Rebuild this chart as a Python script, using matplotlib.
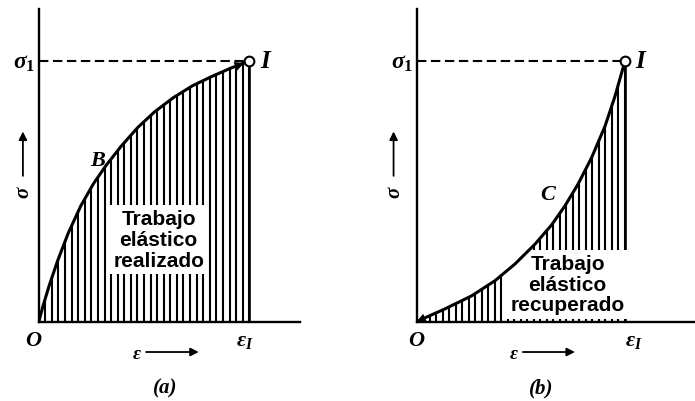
import matplotlib
matplotlib.use('Agg')
import matplotlib.pyplot as plt
import numpy as np

# Curva B: carga elastica (concava), deformacion y tension normalizadas
eps_carga = [0, 0.02, 0.05, 0.09, 0.14, 0.20, 0.26, 0.32, 0.39, 0.47, 0.55,
             0.64, 0.73, 0.82, 0.91, 1.0]
sig_carga = [0, 0.06, 0.14, 0.235, 0.34, 0.445, 0.53, 0.60, 0.672, 0.745,
             0.805, 0.86, 0.905, 0.94, 0.972, 1.0]

# Curva C: descarga (convexa)
eps_descarga = [0, 0.024, 0.136, 0.264, 0.376, 0.472, 0.568, 0.648, 0.712,
                0.776, 0.84, 0.904, 0.952, 1.0]
sig_descarga = [0, 0.01, 0.05, 0.10, 0.158, 0.222, 0.298, 0.372, 0.445,
                0.53, 0.63, 0.75, 0.865, 1.0]

textos = ['Trabajo\nelástico\nrealizado', 'Trabajo\nelástico\nrecuperado']
letras = ['B', 'C']
paneles = ['(a)', '(b)']

plt.rcParams['mathtext.fontset'] = 'custom'
plt.rcParams['mathtext.it'] = 'Liberation Serif:italic:bold'
plt.rcParams['mathtext.rm'] = 'Liberation Serif:bold'
plt.rcParams['mathtext.bf'] = 'Liberation Serif:bold'

W, H = 695, 402
fig = plt.figure(figsize=(W / 100, H / 100), dpi=100)

letra = dict(family='Liberation Serif', weight='bold', style='italic', color='k')
caja = dict(family='Liberation Sans', weight='bold', color='k')


def panel(x0, ancho, esc_x, esc_y, eps, sig, texto, let, nombre, carga,
          pos_let, pos_txt, pos_sig, pos_O, pos_epsI):
    # ejes en pixeles: origen en (x0, 323), 1 unidad = esc_x / esc_y pixeles
    ax = fig.add_axes([x0 / W, (H - 323) / H, ancho / W, 313 / H])
    ax.set_xlim(0, ancho / esc_x)
    ax.set_ylim(0, 313 / esc_y)
    for s in ['top', 'right']:
        ax.spines[s].set_visible(False)
    for s in ['left', 'bottom']:
        ax.spines[s].set_linewidth(1.7)
    ax.set_xticks([])
    ax.set_yticks([])
    ax.patch.set_alpha(0)

    # rayado vertical bajo la curva
    xs = np.linspace(0, 1, 33)
    ys = np.interp(xs, eps, sig)
    ax.vlines(xs, 0, ys, color='k', lw=1.5, zorder=2)
    ax.vlines(eps[-1], 0, sig[-1], color='k', lw=1.9, zorder=2)

    ax.plot(eps, sig, color='k', lw=2.2, zorder=6, solid_capstyle='round',
            solid_joinstyle='round')
    ax.plot([0, eps[-1]], [sig[-1], sig[-1]], color='k', lw=1.5,
            ls=(0, (4.5, 2.2)), zorder=3)

    # punta de flecha en el sentido del recorrido
    if carga:
        ax.annotate('', xy=(eps[-1], sig[-1]), xytext=(eps[-2], sig[-2]),
                    arrowprops=dict(arrowstyle='-|>', color='k', lw=0,
                                    mutation_scale=17, shrinkA=0, shrinkB=4),
                    zorder=6)
    else:
        ax.annotate('', xy=(eps[0], sig[0]), xytext=(eps[2], sig[2]),
                    arrowprops=dict(arrowstyle='-|>', color='k', lw=0,
                                    mutation_scale=17, shrinkA=0, shrinkB=0),
                    zorder=6)
    ax.plot(eps[-1], sig[-1], 'o', ms=7, mfc='white', mec='k', mew=1.5,
            zorder=7, clip_on=False)

    ax.text(pos_txt[0], pos_txt[1], texto, ha='center', va='center',
            fontsize=15, linespacing=1.12, zorder=5,
            bbox=dict(facecolor='white', edgecolor='none', pad=3), **caja)

    ax.text(pos_let[0], pos_let[1], let, ha='center', va='center',
            fontsize=16, zorder=6, **letra)
    ax.text(-0.015, sig[-1], r'$\sigma_1$', ha='right', va='center',
            fontsize=17, clip_on=False)
    ax.text(1.05, sig[-1], 'I', ha='left', va='center', fontsize=18,
            clip_on=False, **letra)
    ax.text(pos_O, -0.07, 'O', ha='center', va='center',
            fontsize=16, clip_on=False, **letra)
    ax.text(pos_epsI, -0.07, r'$\varepsilon_I$', ha='center', va='center',
            fontsize=16, clip_on=False)

    # flechas de los ejes
    ax.text(0.465, -0.115, r'$\varepsilon$', ha='center', va='center',
            fontsize=14, clip_on=False)
    ax.annotate('', xy=(0.76, -0.115), xytext=(0.51, -0.115),
                xycoords='data', annotation_clip=False,
                arrowprops=dict(arrowstyle='-|>', color='k', lw=1.3,
                                mutation_scale=12, shrinkA=0, shrinkB=0))
    ax.text(pos_sig, 0.50, r'$\sigma$', ha='center', va='center',
            fontsize=15, rotation=90, clip_on=False)
    ax.annotate('', xy=(pos_sig, 0.73), xytext=(pos_sig, 0.56),
                annotation_clip=False,
                arrowprops=dict(arrowstyle='-|>', color='k', lw=1.3,
                                mutation_scale=12, shrinkA=0, shrinkB=0))

    ax.text(0.60, -0.25, nombre, ha='center', va='center', fontsize=15,
            clip_on=False, **letra)
    return ax


panel(38.7, 261, 210.6, 261, eps_carga, sig_carga, textos[0], letras[0],
      paneles[0], True, (0.28, 0.62), (0.57, 0.315), -0.075, -0.025, 0.98)
panel(416.5, 278.5, 208.5, 261, eps_descarga, sig_descarga, textos[1],
      letras[1], paneles[1], False, (0.63, 0.49), (0.725, 0.145), -0.11,
      0.0, 1.04)

fig.savefig('out.png', dpi=100)
